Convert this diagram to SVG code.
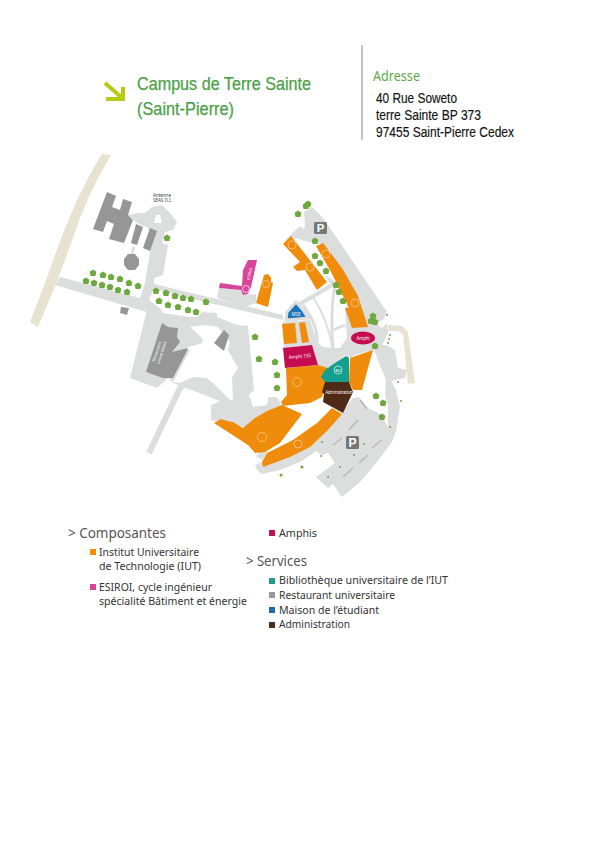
<svg xmlns="http://www.w3.org/2000/svg" width="601" height="850" viewBox="0 0 601 850">
<style>
text{font-family:"Noto Sans","Open Sans",sans-serif}
.r{fill:#dcdddd}.rl{fill:none;stroke:#dcdddd;stroke-linecap:butt}
.b{fill:#969696}.o{fill:#ef8c0c}.w{fill:#fff}
.c{fill:none;stroke:#f8c88a;stroke-width:.8}
.m{fill:#fff;text-anchor:middle}
.h{font-size:15px;fill:#555}.l{font-size:11px;fill:#333}
.t{font-family:"Liberation Sans",Arial,sans-serif;font-size:18.5px;fill:#4ba046;stroke:#4ba046;stroke-width:.25}
.a{font-family:"Liberation Sans",Arial,sans-serif;font-size:14px;fill:#111;stroke:#111;stroke-width:.15}
.d{stroke:#b8b8b8;stroke-width:1.5}
.s{fill:#6fa83f}
</style>
<defs>
<polygon id="tree" class="s" points="0,-3.6 3.4,-1.2 2.4,3 -2.4,3 -3.4,-1.2"/>
</defs>
<rect width="601" height="850" fill="#fff"/>
<g id="header">
<path d="M105,83 L121,97 M123,87 V99 H106" fill="none" stroke="#b5cb14" stroke-width="4"/>
<text class="t" x="137" y="90" textLength="174" lengthAdjust="spacingAndGlyphs">Campus de Terre Sainte</text>
<text class="t" x="137" y="115" textLength="97" lengthAdjust="spacingAndGlyphs">(Saint-Pierre)</text>
<line x1="362" y1="45" x2="362" y2="140" stroke="#8a8a8a" stroke-width="1"/>
<text x="373" y="81" font-size="14" fill="#5aa84a" textLength="47" lengthAdjust="spacingAndGlyphs">Adresse</text>
<text class="a" x="376" y="103" textLength="81" lengthAdjust="spacingAndGlyphs">40 Rue Soweto</text>
<text class="a" x="376" y="120" textLength="105" lengthAdjust="spacingAndGlyphs">terre Sainte BP 373</text>
<text class="a" x="376" y="137" textLength="138" lengthAdjust="spacingAndGlyphs">97455 Saint-Pierre Cedex</text>
</g>
<g id="roads">
<path fill="#e8e2d0" d="M102,154 L111,155 Q87,195 74,235 L56,284 L38,327 L30,322 L48,275 Q73,200 102,154Z"/>
<path fill="#e8e2d0" d="M388,325 L402,326 L408,332 L415,383 L408,384 L403,334 L398,331 L388,331Z"/>
<polygon class="r" points="60,277 140,298 147,312 55,285"/>
<polygon class="r" points="128,215 138,213 145,213 152,207 162,205 170,213 177,222 173,230 165,232 162,243 168,245 163,275 154,278 154,285 148,297 140,298 145,283 152,240 148,228 137,223"/>
<polygon class="w" points="156,215 160,215 162,223 154,223"/>
<line class="rl" x1="134" y1="247" x2="131" y2="256" stroke-width="2.5"/>
<polygon class="r" points="154,284 283,315 283,320 205,302 154,289"/>
<polygon class="r" points="140,298 146,286 154,285 154,288 149,300 162,310 163,314 147,312"/>
<polygon class="r" points="150,312 163,313 190,317 197,317 202,312 217,313 217,317 237,325 248,326 254,390 249,395 253,407 267,405 268,397 277,397 283,408 250,427 245,427 211,420 211,405 222,400 225,403 173,383 168,378 157,388 130,378 147,310"/>
<polygon class="w" points="190,327 205,325 218,327 230,342 228,350 238,368 232,377 233,400 230,400 217,387 207,378 193,377 180,383 173,382 190,350 185,348 203,343 202,338"/>
<path class="rl" stroke-width="6" d="M149,453 L180,388 Q193,376 210,385 L226,401"/>
<polygon class="r" points="219,288 241,290 243,295 256,294 256,303 245,307 217,298"/>
<polygon class="r" points="285,240 300,226 304,229 305,225 304,212 312,207 323,218 330,228 387,312 383,320 375,323 368,327 352,300 323,244 313,243 295,238"/>
<polygon class="r" points="323,273 333,280 335,284 330,283"/>
<line class="rl" x1="298" y1="305" x2="334" y2="284" stroke-width="4"/>
<path class="rl" stroke-width="2" d="M313,297 Q328,320 333,350"/>
<path class="rl" stroke-width="3" d="M335,286 Q330,310 333,350"/>
<line class="rl" x1="333" y1="330" x2="345" y2="325" stroke-width="2.5"/>
<path class="rl" stroke-width="3" d="M303,305 Q318,325 317,342"/>
<polygon class="r" points="283,322 310,320 318,345 284,350"/>
<polygon class="r" points="312,345 315,340 323,347 332,348 340,348 347,338 345,308 352,300 368,327 375,323 382,328 387,323 388,333 380,350 373,350 355,355 350,358 345,355 328,370 324,372 318,365"/>
<polygon class="r" points="372,345 387,345 395,350 398,368 407,370 405,378 391,381 396,390 400,407 396,432 388,427 388,405 385,395 386,380 382,370"/>
<polygon class="r" points="310,447 323,432 340,415 353,398 359,397 368,408 380,414 388,427 396,431 392,442 377,462 360,482 342,497 333,484 337,481 328,488 316,477 335,463 328,453 322,455"/>
<polygon class="r" points="255,465 262,462 310,445 322,447 315,452 300,462 280,470 262,474 257,470"/>
<polygon class="r" points="261,451 268,451 262,460 256,456"/>
<line class="d" x1="349" y1="430" x2="358" y2="420"/>
<line class="d" x1="333" y1="445" x2="342" y2="438"/>
<line class="d" x1="372" y1="448" x2="382" y2="440"/>
<line class="d" x1="359" y1="463" x2="368" y2="455"/>
<line class="d" x1="343" y1="477" x2="353" y2="468"/>
<line class="d" x1="360" y1="400" x2="367" y2="409"/>
</g>
<g id="restaurant">
<polygon class="b" points="107,192 116,196 112,207 120,210 123,199 132,202 128,215 133,220 124,243 109,239 114,224 107,221 103,232 93,229"/>
<polygon class="b" points="136,224 143,227 137,245 131,243"/>
<polygon class="b" points="150,228 157,231 150,251 143,248"/>
<polygon class="b" points="128,254 135,254 139,259 139,265 135,270 128,270 124,265 124,259"/>
<polygon class="b" points="121,307 129,308 127,315 120,313"/>
<polygon class="b" points="162,323 168,327 178,328 177,337 180,342 172,352 188,348 186,353 173,378 163,378 146,372"/>
<polygon class="b" points="224,330 229,335 224,351 214,343"/>
<text x="158" y="352" class="m" font-size="4" transform="rotate(-72 158 352)">Restaurant</text>
<text x="163" y="353" class="m" font-size="4" transform="rotate(-72 163 353)">Universitaire</text>
<text x="153" y="197" font-size="4.5" fill="#444">Antenne</text>
<text x="153" y="201.5" font-size="4.5" fill="#444">SEAS O.I.</text>
</g>
<g id="esiroi">
<polygon fill="#d9459a" points="220,283 242,286 243,270 248,260 257,260 251,287 248,294 243,295 241,290 219,288"/>
<text x="251" y="274" class="m" font-size="3.8" transform="rotate(-76 251 274)">ESIROI</text>
<circle cx="246" cy="289" r="3.5" fill="none" stroke="#fff" stroke-width=".7"/>
</g>
<g id="iut">
<polygon class="o" points="256,303 262,282 264,275 268,274 271,278 271,282 273,283 268,307"/>
<polygon class="o" points="283,244 291,236 327,282 317,290 305,270 297,271 293,267 300,262"/>
<polygon class="o" points="316,246 323,243 342,268 358,296 368,327 352,328 345,308 349,308 331,272"/>
<polygon class="o" points="282,324 295,323 297,343 284,344"/>
<polygon class="o" points="299,323 305,322 309,342 302,343"/>
<polygon class="o" points="286,368 318,365 328,368 327,380 322,397 310,403 283,406 281,402 287,395"/>
<polygon class="o" points="214,423 221,419 227,421 233,422 243,428 255,418 267,411 282,405 302,414 280,443 265,452 255,453 248,445"/>
<polygon class="o" points="262,462 267,453 293,440 317,423 332,408 342,414 328,430 310,447 290,457 263,467"/>
<polygon class="o" points="350,358 373,350 362,390 353,390 349,382"/>
<circle class="c" cx="266" cy="284" r="3.5"/>
<circle class="c" cx="292" cy="245" r="4"/>
<circle class="c" cx="310" cy="267" r="4"/>
<circle class="c" cx="326" cy="254" r="4"/>
<circle class="c" cx="355" cy="303" r="4"/>
<circle class="c" cx="297" cy="382" r="4.5"/>
<circle class="c" cx="262" cy="437" r="4.5"/>
<circle class="c" cx="298" cy="444" r="4"/>
</g>
<g id="mde">
<path fill="#1a75bb" stroke="#dcdddd" stroke-width="3" d="M286,320 L287,312 L296,302 L303,310 L308,318 L298,319Z"/>
<text x="296" y="315.5" class="m" font-size="4.5" textLength="9" lengthAdjust="spacingAndGlyphs">MDE</text>
</g>
<g id="amphi-150">
<polygon fill="#c60c50" points="283,348 312,345 318,365 285,368"/>
<text x="300" y="358" class="m" font-size="5" textLength="22" lengthAdjust="spacingAndGlyphs" transform="rotate(-5 300 358)">Amphi 150</text>
</g>
<g id="amphi">
<ellipse cx="363" cy="338" rx="12" ry="6.5" fill="#c60c50"/>
<text x="363" y="340" class="m" font-size="4.8" textLength="13" lengthAdjust="spacingAndGlyphs">Amphi</text>
</g>
<g id="bu">
<polygon fill="#13a08f" points="321,377 325,370 335,363 346,356 349,358 349,382 325,382"/>
<circle cx="338" cy="370" r="4" fill="none" stroke="#cdebe6" stroke-width=".8"/>
<text x="338" y="371.5" class="m" font-size="4">BU</text>
</g>
<g id="administration">
<polygon fill="#4e2a17" points="322,392 325,382 349,382 353,392 343,413 323,402 324,394"/>
<text x="339" y="394" class="m" font-size="4.8" textLength="27" lengthAdjust="spacingAndGlyphs">Administration</text>
</g>
<g id="parkings">
<rect x="314" y="222" width="13" height="12" rx="1.5" fill="#777"/>
<text x="320.5" y="232" class="m" font-size="11.5" font-weight="700" style="font-family:'Liberation Sans',sans-serif">P</text>
<rect x="346" y="436" width="13" height="13" rx="1.5" fill="#777"/>
<text x="352.5" y="447" class="m" font-size="12" font-weight="700" style="font-family:'Liberation Sans',sans-serif">P</text>
</g>
<g id="trees">
<use href="#tree" x="93" y="273"/><use href="#tree" x="103" y="275"/><use href="#tree" x="111" y="277"/><use href="#tree" x="120" y="279"/><use href="#tree" x="129" y="283"/><use href="#tree" x="138" y="286"/>
<use href="#tree" x="86" y="281"/><use href="#tree" x="94" y="283"/><use href="#tree" x="102" y="285"/><use href="#tree" x="110" y="287"/><use href="#tree" x="118" y="290"/><use href="#tree" x="127" y="292"/>
<use href="#tree" x="167" y="238"/><use href="#tree" x="156" y="291"/><use href="#tree" x="166" y="293"/><use href="#tree" x="175" y="296"/><use href="#tree" x="183" y="298"/><use href="#tree" x="191" y="299"/><use href="#tree" x="206" y="302"/>
<use href="#tree" x="159" y="301"/><use href="#tree" x="168" y="305"/><use href="#tree" x="178" y="307"/><use href="#tree" x="188" y="310"/><use href="#tree" x="196" y="312"/>
<use href="#tree" x="255" y="337"/><use href="#tree" x="259" y="359"/><use href="#tree" x="275" y="362"/><use href="#tree" x="277" y="375"/><use href="#tree" x="277" y="388"/>
<use href="#tree" x="298" y="214"/><use href="#tree" x="308" y="204"/><use href="#tree" x="306" y="206"/><use href="#tree" x="315" y="241"/><use href="#tree" x="315" y="256"/><use href="#tree" x="320" y="263"/><use href="#tree" x="326" y="271"/>
<use href="#tree" x="336" y="285"/><use href="#tree" x="339" y="292"/><use href="#tree" x="343" y="301"/><use href="#tree" x="373" y="316"/><use href="#tree" x="371" y="321"/><use href="#tree" x="375" y="322"/><use href="#tree" x="375" y="346"/>
<use href="#tree" x="376" y="396"/><use href="#tree" x="383" y="403"/><use href="#tree" x="382" y="417"/>
<g class="s"><circle cx="302" cy="467" r="1.5"/><circle cx="281" cy="475" r="1.5"/><circle cx="328" cy="477" r="1"/><circle cx="340" cy="467" r="1"/><circle cx="354" cy="455" r="1"/><circle cx="364" cy="444" r="1"/><circle cx="322" cy="442" r="1"/><circle cx="321" cy="456" r="1"/><circle cx="398" cy="382" r="1"/><circle cx="401" cy="401" r="1"/><circle cx="390" cy="427" r="1"/><circle cx="387" cy="315" r="1"/><circle cx="390" cy="335" r="1"/><circle cx="389" cy="339" r="1"/><circle cx="388" cy="343" r="1"/></g>
</g>
<g id="legend">
<text class="h" x="68" y="538" textLength="98" lengthAdjust="spacingAndGlyphs">&gt; Composantes</text>
<rect x="90" y="549" width="6" height="6" fill="#ef8c0c"/>
<text class="l" x="99" y="556" textLength="100" lengthAdjust="spacingAndGlyphs">Institut Universitaire</text>
<text class="l" x="99" y="570" textLength="102" lengthAdjust="spacingAndGlyphs">de Technologie (IUT)</text>
<rect x="90" y="584" width="6" height="6" fill="#d9459a"/>
<text class="l" x="99" y="591" textLength="113" lengthAdjust="spacingAndGlyphs">ESIROI, cycle ingénieur</text>
<text class="l" x="99" y="605" textLength="148" lengthAdjust="spacingAndGlyphs">spécialité Bâtiment et énergie</text>
<rect x="269" y="530" width="6" height="6" fill="#c0124f"/>
<text class="l" x="279" y="537" textLength="38" lengthAdjust="spacingAndGlyphs">Amphis</text>
<text class="h" x="246" y="566" textLength="61" lengthAdjust="spacingAndGlyphs">&gt; Services</text>
<rect x="269" y="578" width="6" height="6" fill="#1d9d8a"/>
<text class="l" x="279" y="584" textLength="169" lengthAdjust="spacingAndGlyphs">Bibliothèque universitaire de l’IUT</text>
<rect x="269" y="592" width="6" height="6" fill="#999"/>
<text class="l" x="279" y="599" textLength="116" lengthAdjust="spacingAndGlyphs">Restaurant universitaire</text>
<rect x="269" y="607" width="6" height="6" fill="#1a6fa0"/>
<text class="l" x="279" y="614" textLength="100" lengthAdjust="spacingAndGlyphs">Maison de l’étudiant</text>
<rect x="269" y="622" width="6" height="6" fill="#4e2e18"/>
<text class="l" x="279" y="628" textLength="71" lengthAdjust="spacingAndGlyphs">Administration</text>
</g>
</svg>
